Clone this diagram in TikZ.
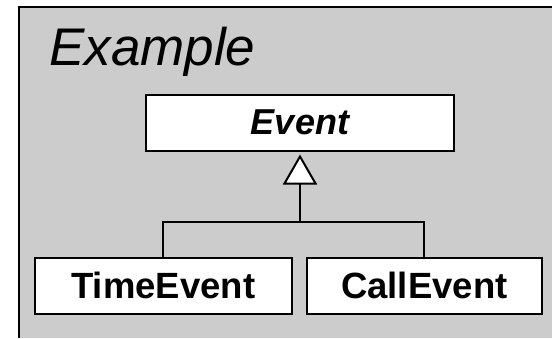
\documentclass[tikz,border=0pt]{standalone}
\usepackage{fontspec}
\setmainfont{Liberation Sans}
\usetikzlibrary{arrows.meta}
\definecolor{bggray}{HTML}{CCCCCC}
\tikzset{
  classbox/.style={draw=black, line width=2pt, fill=white, inner sep=0pt,
    minimum height=56pt, font=\fontsize{36.5}{40}\selectfont\bfseries},
  conn/.style={draw=black, line width=2pt},
}
\begin{document}
\begin{tikzpicture}[x=1pt,y=-1pt]
\useasboundingbox (0,0) rectangle (552,338);
\fill[bggray] (19,7) rectangle (552,338);
\draw[line width=2pt] (19,338) -- (19,7) -- (552,7);
\node[anchor=base west, inner sep=0pt, font=\fontsize{53}{58}\selectfont\itshape] (title) at (49,65) {Example};
\node[classbox, minimum width=308pt, font=\fontsize{36}{40}\selectfont\bfseries\itshape] (event) at (300,122.5) {Event};
\node[classbox, minimum width=257pt] (time) at (163.3,285.7) {TimeEvent};
\node[classbox, minimum width=235pt] (call) at (424.3,285.7) {CallEvent};
\coordinate (j) at (300,222);
\draw[conn] (time.north) |- (j) -| (call.north);
\draw[conn, shorten >=3pt, -{Triangle[length=30pt, width=34pt, fill=white]}] (j) -- (event.south);
\end{tikzpicture}
\end{document}
